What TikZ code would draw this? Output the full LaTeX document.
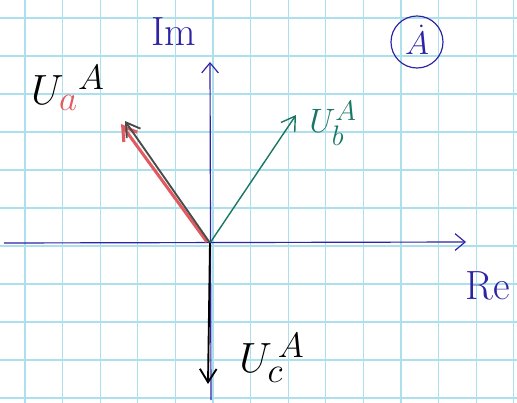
\documentclass[tikz,border=0pt]{standalone}
\usepackage{amsmath,amssymb}
\usepackage{xcolor}
\usepackage{tikz}
\usetikzlibrary{arrows.meta,positioning}
\definecolor{gridcyan}{RGB}{172,224,236}
\definecolor{penblue}{RGB}{45,35,165}
\definecolor{penred}{RGB}{225,90,95}
\definecolor{penteal}{RGB}{25,120,100}
\definecolor{pengray}{RGB}{75,75,75}

\begin{document}
\begin{tikzpicture}[
  x=0.03cm, y=-0.03cm,
  gridline/.style={gridcyan, line width=0.9pt},
  axis/.style={-{Straight Barb[length=3mm, width=5mm]}, penblue, line width=1pt},
  phasor/.style={-{Straight Barb[length=4mm, width=5mm]}, line width=1.6pt},
  lbl/.style={inner sep=0pt, font=\Huge, scale=1.45},
  axlbl/.style={inner sep=0pt, penblue, font=\Huge, scale=1.4}
]
\fill[white] (0,0) rectangle (517,403);
\useasboundingbox (0,0) rectangle (517,403);
% squared paper
\foreach \k in {0,...,13} \draw[gridline] ({25+37.6*\k},0) -- ({25+37.6*\k},403);
\foreach \k in {0,...,10} \draw[gridline] (0,{18+38*\k}) -- (517,{18+38*\k});

% axes
\coordinate (O) at (210,243);
\coordinate (reL) at (4,243);
\coordinate (reR) at (466,242);
\coordinate (imB) at (211,400);
\coordinate (imT) at (210,62);
\draw[axis] (reL) -- (reR);
\draw[axis] (imB) -- (imT);
\node[axlbl] (imlbl) at (174,32) {Im};
\node[axlbl] (relbl) at (488,286) {Re};
\draw[penblue, line width=1pt] (417,42) circle[radius=26];
\node[axlbl, scale=0.8] (tag) at (417,40) {$\dot{A}$};

% phasors
\coordinate (ua) at (125,121);
\coordinate (uared) at (121,124);
\coordinate (Ored) at (207,242);
\coordinate (ub) at (296,115);
\coordinate (uc) at (208,384);
\draw[phasor, penred, line width=2.6pt] (Ored) -- (uared);
\draw[phasor, pengray] (O) -- (ua);
\draw[phasor, penteal, line width=1.2pt] (O) -- (ub);
\draw[phasor, black] (O) -- (uc);

% labels
\node[lbl] (ualbl) at (68,88) {$U_{\color{penred}a}^{A}$};
\node[lbl, text=penteal, scale=0.8] (ublbl) at (333,123) {$U_b^{A}$};
\node[lbl] (uclbl) at (272,358) {$U_c^{\,A}$};
\end{tikzpicture}
\end{document}
